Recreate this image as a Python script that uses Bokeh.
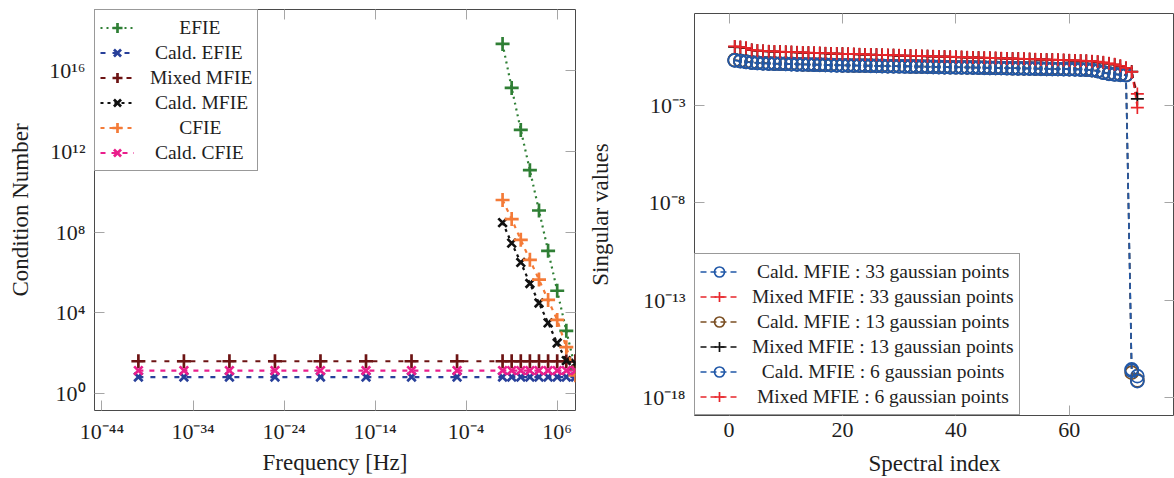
from bokeh.plotting import figure
from bokeh.layouts import row
from bokeh.models import (Range1d, FixedTicker, LogAxis, LinearAxis,
                          CustomJSTickFormatter, Legend, LegendItem)
from bokeh.embed import file_html
from bokeh.resources import INLINE

# ---------------- Left chart data ----------------
freq_all = [1e-40, 1e-35, 1e-30, 1e-25, 1e-20, 1e-15, 1e-10, 1e-5,
            1e0, 1e1, 1e2, 1e3, 1e4, 1e5, 1e6, 1e7, 1e8]
freq_hf = [1e0, 1e1, 1e2, 1e3, 1e4, 1e5, 1e6, 1e7, 1e8]

efie = [2.2e17, 1.45e15, 1.2e13, 1.2e11, 1.2e9, 1.2e7, 1.26e5, 1.3e3, 16]
cald_efie = [6.6, 6.6, 6.6, 6.6, 6.6, 6.6, 6.6, 6.6,
             6.6, 6.6, 6.6, 6.6, 6.6, 6.6, 6.6, 6.6, 6.6]
mixed_mfie = [40, 40, 40, 40, 40, 40, 40, 40,
              40, 40, 40, 40, 40, 40, 40, 40, 40]
cald_mfie = [3.0e8, 2.9e7, 3.2e6, 2.9e5, 3.1e4, 3.2e3, 320, 43, 32]
cfie = [4.0e9, 4.5e8, 4.2e7, 4.3e6, 4.5e5, 4.4e4, 4.5e3, 200, 8]
cald_cfie = [13.8, 13.8, 13.8, 13.8, 13.8, 13.8, 13.8, 13.8,
             13.8, 13.8, 13.8, 13.8, 13.8, 13.8, 13.8, 13.8, 13.8]

left_x_ticks = [1e-44, 1e-34, 1e-24, 1e-14, 1e-4, 1e6]
left_y_ticks = [1e0, 1e4, 1e8, 1e12, 1e16]

# ---------------- Right chart data (log10 of singular values) ----------------
spectral_index = list(range(1, 73))

cald33_exp = [-0.67, -0.71, -0.75, -0.79, -0.81, -0.82, -0.83, -0.84, -0.85, -0.86,
              -0.87, -0.88, -0.88, -0.89, -0.90, -0.90, -0.91, -0.92, -0.92, -0.93,
              -0.93, -0.94, -0.94, -0.95, -0.95, -0.96, -0.96, -0.97, -0.97, -0.98,
              -0.98, -0.99, -0.99, -1.00, -1.00, -1.01, -1.01, -1.02, -1.02, -1.03,
              -1.03, -1.04, -1.04, -1.05, -1.05, -1.06, -1.06, -1.07, -1.07, -1.08,
              -1.08, -1.09, -1.09, -1.10, -1.10, -1.11, -1.11, -1.12, -1.12, -1.13,
              -1.13, -1.14, -1.15, -1.17, -1.21, -1.29, -1.35, -1.38, -1.40, -1.42,
              -16.55, -16.90]
mixed33_exp = [0.03, 0.00, -0.04, -0.15, -0.18, -0.20, -0.22, -0.23, -0.24, -0.25,
               -0.26, -0.27, -0.28, -0.29, -0.30, -0.31, -0.32, -0.33, -0.34, -0.34,
               -0.35, -0.36, -0.37, -0.38, -0.39, -0.39, -0.40, -0.41, -0.42, -0.43,
               -0.44, -0.44, -0.45, -0.46, -0.47, -0.48, -0.49, -0.49, -0.50, -0.51,
               -0.52, -0.53, -0.54, -0.54, -0.55, -0.56, -0.57, -0.58, -0.59, -0.59,
               -0.60, -0.61, -0.62, -0.63, -0.64, -0.64, -0.65, -0.66, -0.67, -0.68,
               -0.69, -0.70, -0.71, -0.73, -0.75, -0.79, -0.84, -0.89, -0.97, -1.07,
               -1.25, -2.40]
cald13_exp = [-0.66, -0.70, -0.74, -0.78, -0.80, -0.82, -0.83, -0.84, -0.85, -0.85,
              -0.86, -0.87, -0.88, -0.89, -0.89, -0.90, -0.91, -0.91, -0.92, -0.93,
              -0.93, -0.94, -0.94, -0.95, -0.95, -0.96, -0.96, -0.97, -0.97, -0.98,
              -0.98, -0.99, -0.99, -1.00, -1.00, -1.01, -1.01, -1.02, -1.02, -1.03,
              -1.03, -1.04, -1.04, -1.05, -1.05, -1.06, -1.06, -1.07, -1.07, -1.08,
              -1.08, -1.09, -1.09, -1.10, -1.10, -1.11, -1.11, -1.12, -1.12, -1.13,
              -1.13, -1.14, -1.15, -1.18, -1.22, -1.30, -1.36, -1.39, -1.41, -1.43,
              -16.72, -17.12]
mixed13_exp = [0.02, -0.01, -0.05, -0.15, -0.18, -0.20, -0.22, -0.23, -0.24, -0.25,
               -0.26, -0.27, -0.28, -0.29, -0.30, -0.31, -0.32, -0.33, -0.33, -0.34,
               -0.35, -0.36, -0.37, -0.38, -0.38, -0.39, -0.40, -0.41, -0.42, -0.43,
               -0.43, -0.44, -0.45, -0.46, -0.47, -0.48, -0.48, -0.49, -0.50, -0.51,
               -0.52, -0.53, -0.53, -0.54, -0.55, -0.56, -0.57, -0.58, -0.58, -0.59,
               -0.60, -0.61, -0.62, -0.63, -0.63, -0.64, -0.65, -0.66, -0.67, -0.68,
               -0.69, -0.70, -0.71, -0.73, -0.76, -0.80, -0.85, -0.90, -0.98, -1.08,
               -1.26, -2.66]
cald6_exp = [-0.68, -0.72, -0.76, -0.79, -0.81, -0.83, -0.84, -0.85, -0.85, -0.86,
             -0.87, -0.88, -0.89, -0.89, -0.90, -0.91, -0.91, -0.92, -0.93, -0.93,
             -0.94, -0.94, -0.95, -0.95, -0.96, -0.96, -0.97, -0.97, -0.98, -0.98,
             -0.99, -0.99, -1.00, -1.00, -1.01, -1.01, -1.02, -1.02, -1.03, -1.03,
             -1.04, -1.04, -1.05, -1.05, -1.06, -1.06, -1.07, -1.07, -1.08, -1.08,
             -1.09, -1.09, -1.10, -1.10, -1.11, -1.11, -1.12, -1.12, -1.13, -1.13,
             -1.14, -1.15, -1.16, -1.18, -1.23, -1.31, -1.37, -1.40, -1.42, -1.44,
             -16.62, -17.15]
mixed6_exp = [0.04, 0.01, -0.03, -0.14, -0.17, -0.19, -0.21, -0.22, -0.23, -0.24,
              -0.25, -0.26, -0.27, -0.28, -0.29, -0.30, -0.31, -0.32, -0.33, -0.34,
              -0.34, -0.35, -0.36, -0.37, -0.38, -0.39, -0.39, -0.40, -0.41, -0.42,
              -0.43, -0.44, -0.44, -0.45, -0.46, -0.47, -0.48, -0.49, -0.49, -0.50,
              -0.51, -0.52, -0.53, -0.54, -0.54, -0.55, -0.56, -0.57, -0.58, -0.59,
              -0.59, -0.60, -0.61, -0.62, -0.63, -0.64, -0.64, -0.65, -0.66, -0.67,
              -0.68, -0.69, -0.70, -0.72, -0.74, -0.78, -0.83, -0.88, -0.96, -1.06,
              -1.27, -3.10]

right_x_ticks = [0, 20, 40, 60, 80]
right_y_ticks = [1e-18, 1e-13, 1e-8, 1e-3]

# ---------------- styling ----------------
SERIF = "Liberation Serif"
TXT = "#1e1e1e"
NB = "\u00a0"

SUP_CODE = r"""
const m = {"0":"\u2070","1":"\u00b9","2":"\u00b2","3":"\u00b3","4":"\u2074",
           "5":"\u2075","6":"\u2076","7":"\u2077","8":"\u2078","9":"\u2079","-":"\u207b"};
const e = Math.round(Math.log10(tick));
return "10" + String(e).split("").map(c => m[c]).join("");
"""


def style_axis(ax, label_size="22px"):
    ax.major_tick_in = 10
    ax.major_tick_out = 0
    ax.minor_tick_line_color = None
    ax.major_tick_line_color = "#a6a6a6"
    ax.major_tick_line_width = 1
    ax.axis_line_color = None
    ax.major_label_text_font = SERIF
    ax.major_label_text_color = TXT
    ax.major_label_text_font_size = label_size
    ax.axis_label_text_font = SERIF
    ax.axis_label_text_font_style = "normal"
    ax.axis_label_text_color = TXT
    ax.axis_label_text_font_size = "23px"


def style_fig(p):
    p.outline_line_color = "#4a4a4a"
    p.outline_line_width = 1
    p.grid.visible = False
    p.background_fill_color = "white"
    p.border_fill_color = "white"
    if "frame_align" in p.properties():
        p.frame_align = False


def add_mirror(p, cls, ticks, side):
    ax = cls(ticker=FixedTicker(ticks=ticks),
             formatter=CustomJSTickFormatter(code="return '';"))
    style_axis(ax, label_size="1px")
    ax.major_label_standoff = 0
    ax.major_label_text_alpha = 0
    p.add_layout(ax, side)


def make_legend(items, loc, glyph_w, standoff):
    return Legend(items=items, location=loc, margin=0, padding=5,
                  spacing=0, glyph_height=25, glyph_width=glyph_w,
                  label_standoff=standoff, label_height=22,
                  label_text_font=SERIF, label_text_font_size="19.5px",
                  label_text_color=TXT, border_line_color="#333333",
                  border_line_width=1, background_fill_color="white",
                  background_fill_alpha=1)


# ---------------- Left figure ----------------
p1 = figure(width=585, height=478, x_axis_type="log", y_axis_type="log",
            x_range=Range1d(10 ** -44.82, 10 ** 8.01),
            y_range=Range1d(10 ** -0.84, 10 ** 19.05),
            output_backend="svg", toolbar_location=None,
            min_border_left=94, min_border_right=10,
            min_border_top=9, min_border_bottom=68)
style_fig(p1)
xb1 = p1.below[0]
yl1 = p1.left[0]
xb1.ticker = FixedTicker(ticks=left_x_ticks)
yl1.ticker = FixedTicker(ticks=left_y_ticks)
xb1.formatter = CustomJSTickFormatter(code=SUP_CODE)
yl1.formatter = CustomJSTickFormatter(code=SUP_CODE)
xb1.axis_label = "Frequency [Hz]"
yl1.axis_label = "Condition Number"
style_axis(xb1)
style_axis(yl1)
xb1.major_label_standoff = 8
yl1.major_label_standoff = 9
xb1.axis_label_standoff = 3
yl1.axis_label_standoff = 13
add_mirror(p1, LogAxis, left_x_ticks, "above")
add_mirror(p1, LogAxis, left_y_ticks, "right")

left_series = [
    ("EFIE", 6, freq_hf, efie, "#2f7f35", "cross", "2 4", 14),
    ("Cald. EFIE", 1, freq_all, cald_efie, "#28409a", "x", "5 7", 12),
    ("Mixed MFIE", 0, freq_all, mixed_mfie, "#6d1414", "cross", "5 8", 14),
    ("Cald. MFIE", 1, freq_hf, cald_mfie, "#111111", "x", "3 4", 12),
    ("CFIE", 6, freq_hf, cfie, "#f47b38", "cross", "4 5", 14),
    ("Cald. CFIE", 1, freq_all, cald_cfie, "#ea1e8c", "x", "5 6", 12),
]
items1 = []
for name, pad, xs, ys, col, mk, dash, ms in left_series:
    ln = p1.line(xs, ys, line_color=col, line_width=2.2, line_dash=dash)
    sc = p1.scatter(xs, ys, marker=mk, size=ms, line_color=col,
                    fill_color=None, line_width=2.7)
    items1.append(LegendItem(label=NB * pad + name, renderers=[ln, sc]))

p1.add_layout(make_legend(items1, "top_left", 34, 16))

# ---------------- Right figure ----------------
p2 = figure(width=589, height=478, y_axis_type="log",
            x_range=Range1d(-6.09, 78.55),
            y_range=Range1d(10 ** -18.92, 10 ** 1.73),
            output_backend="svg", toolbar_location=None,
            min_border_left=107, min_border_right=0,
            min_border_top=13, min_border_bottom=62)
style_fig(p2)
xb2 = p2.below[0]
yl2 = p2.left[0]
xb2.ticker = FixedTicker(ticks=right_x_ticks)
yl2.ticker = FixedTicker(ticks=right_y_ticks)
yl2.formatter = CustomJSTickFormatter(code=SUP_CODE)
xb2.axis_label = "Spectral index"
yl2.axis_label = "Singular values"
style_axis(xb2)
style_axis(yl2)
xb2.major_label_standoff = 7
yl2.major_label_standoff = 9
xb2.axis_label_standoff = 11
yl2.axis_label_standoff = 26
add_mirror(p2, LinearAxis, right_x_ticks, "above")
add_mirror(p2, LogAxis, right_y_ticks, "right")

BLUE = "#2158a8"
RED = "#e8262b"
BROWN = "#7b4f23"
BLACK = "#111111"
right_series = [
    ("Cald. MFIE : 33 gaussian points", 1, cald33_exp, BLUE, "circle"),
    ("Mixed MFIE : 33 gaussian points", 0, mixed33_exp, RED, "cross"),
    ("Cald. MFIE : 13 gaussian points", 1, cald13_exp, BROWN, "circle"),
    ("Mixed MFIE : 13 gaussian points", 0, mixed13_exp, BLACK, "cross"),
    ("Cald. MFIE : 6 gaussian points", 2, cald6_exp, BLUE, "circle"),
    ("Mixed MFIE : 6 gaussian points", 1, mixed6_exp, RED, "cross"),
]
items2 = []
for name, pad, exps, col, mk in right_series:
    vals = [10 ** e for e in exps]
    ln = p2.line(spectral_index, vals, line_color=col, line_width=1.7, line_dash="6 4")
    sc = p2.scatter(spectral_index, vals, marker=mk, size=13, line_color=col,
                    fill_color=None, line_width=1.7)
    items2.append(LegendItem(label=NB * pad + name, renderers=[ln, sc]))

p2.add_layout(make_legend(items2, "bottom_left", 38, 14))

layout = row(p1, p2)
with open("out.html", "w", encoding="utf-8") as f:
    f.write(file_html(layout, INLINE))
